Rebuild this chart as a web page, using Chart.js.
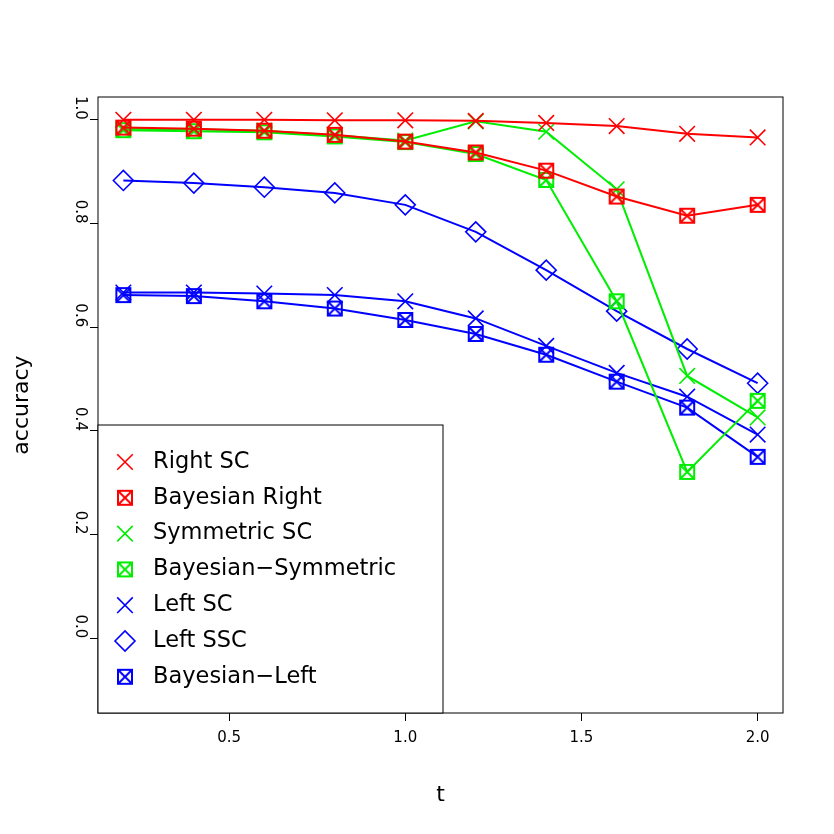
<!DOCTYPE html>
<html>
<head>
<meta charset="utf-8">
<script src="https://cdn.jsdelivr.net/npm/chart.js@4"></script>
<style>
  html, body { margin: 0; padding: 0; background: #fff; }
  #wrap { width: 834px; height: 834px; }
</style>
</head>
<body>
<div id="wrap"><canvas id="chart" width="834" height="834"></canvas></div>
<script>
// data
const tValues = [0.2, 0.4, 0.6, 0.8, 1.0, 1.2, 1.4, 1.6, 1.8, 2.0];
const xTicks = [0.5, 1.0, 1.5, 2.0];
const yTicks = [0.0, 0.2, 0.4, 0.6, 0.8, 1.0];

const rightSC = [1.0, 1.0, 1.0, 0.999, 0.999, 0.998, 0.994, 0.988, 0.973, 0.966];
const bayesRight = [0.985, 0.983, 0.979, 0.971, 0.958, 0.937, 0.902, 0.852, 0.815, 0.836];
const symmetricSC = [0.983, 0.982, 0.979, 0.970, 0.960, 0.997, 0.977, 0.866, 0.506, 0.426];
const bayesSymmetric = [0.980, 0.978, 0.976, 0.968, 0.957, 0.934, 0.884, 0.650, 0.321, 0.458];
const leftSC = [0.667, 0.667, 0.665, 0.662, 0.650, 0.617, 0.564, 0.512, 0.466, 0.393];
const leftSSC = [0.883, 0.878, 0.870, 0.859, 0.836, 0.784, 0.710, 0.631, 0.558, 0.492];
const bayesLeft = [0.662, 0.660, 0.650, 0.636, 0.614, 0.587, 0.547, 0.495, 0.445, 0.350];

const RED = '#FF0000', GREEN = '#00EE00', BLUE = '#0000FF';
const FONT = '"DejaVu Sans", "Liberation Sans", sans-serif';

// boxed x marker (R pch 7)
function boxedX(color) {
    const c = document.createElement('canvas');
    c.width = 18; c.height = 18;
    const g = c.getContext('2d');
    g.strokeStyle = color; g.lineWidth = 2;
    g.strokeRect(2, 2, 14, 14);
    g.beginPath();
    g.moveTo(2, 2); g.lineTo(16, 16);
    g.moveTo(16, 2); g.lineTo(2, 16);
    g.stroke();
    return c;
}

function series(label, data, color, style) {
    return {
        label: label,
        data: tValues.map((t, i) => ({ x: t, y: data[i] })),
        borderColor: color,
        backgroundColor: 'rgba(0,0,0,0)',
        pointBorderColor: color,
        pointBackgroundColor: 'rgba(0,0,0,0)',
        borderWidth: 2,
        pointBorderWidth: 1.6,
        pointRadius: style === 'crossRot' ? 11 : (style === 'rectRot' ? 10 : 8),
        pointStyle: style === 'box' ? boxedX(color) : style,
        tension: 0
    };
}

const datasets = [
    series('Right SC', rightSC, RED, 'crossRot'),
    series('Bayesian Right', bayesRight, RED, 'box'),
    series('Symmetric SC', symmetricSC, GREEN, 'crossRot'),
    series('Bayesian\u2212Symmetric', bayesSymmetric, GREEN, 'box'),
    series('Left SC', leftSC, BLUE, 'crossRot'),
    series('Left SSC', leftSSC, BLUE, 'rectRot'),
    series('Bayesian\u2212Left', bayesLeft, BLUE, 'box')
];

// box, axis titles and the R style legend
const decor = {
    id: 'decor',
    afterDraw(chart) {
        const ctx = chart.ctx;
        const a = chart.chartArea;
        ctx.save();
        ctx.strokeStyle = '#000'; ctx.lineWidth = 1;
        ctx.strokeRect(a.left, a.top, a.right - a.left, a.bottom - a.top);

        ctx.fillStyle = '#000';
        ctx.font = '22px ' + FONT;
        ctx.textAlign = 'center'; ctx.textBaseline = 'middle';
        ctx.fillText('t', (a.left + a.right) / 2, 795);
        ctx.translate(22, (a.top + a.bottom) / 2);
        ctx.rotate(-Math.PI / 2);
        ctx.fillText('accuracy', 0, 0);
        ctx.restore();

        // legend
        ctx.save();
        const lx = a.left, ly = 425, lw = 345, lh = a.bottom - 425;
        ctx.fillStyle = '#fff';
        ctx.fillRect(lx, ly, lw, lh);
        ctx.strokeStyle = '#000'; ctx.lineWidth = 1;
        ctx.strokeRect(lx, ly, lw, lh);
        ctx.font = '22.5px ' + FONT;
        ctx.textAlign = 'left'; ctx.textBaseline = 'middle';
        chart.data.datasets.forEach((ds, i) => {
            const y = 462 + i * 35.8;
            ctx.strokeStyle = ds.borderColor;
            ctx.fillStyle = 'rgba(0,0,0,0)';
            ctx.lineWidth = 1.6;
            Chart.helpers.drawPoint(ctx, {
                pointStyle: ds.pointStyle, radius: ds.pointRadius,
                borderWidth: 1.6, rotation: 0
            }, 125, y);
            ctx.fillStyle = '#000';
            ctx.fillText(ds.label, 153, y);
        });
        ctx.restore();
    }
};

new Chart(document.getElementById('chart'), {
    type: 'line',
    data: { datasets: datasets },
    options: {
        responsive: false,
        animation: false,
        layout: { padding: { top: 97, right: 51, left: 0, bottom: 0 } },
        plugins: { legend: { display: false }, tooltip: { enabled: false } },
        scales: {
            x: {
                type: 'linear',
                min: 0.128, max: 2.072,
                afterFit: s => { s.height = 121; },
                afterBuildTicks: s => { s.ticks = xTicks.map(v => ({ value: v })); },
                grid: { drawOnChartArea: false, tickLength: 8, color: '#000' },
                border: { display: false },
                ticks: {
                    color: '#000', padding: 8, maxRotation: 0,
                    font: { size: 15, family: FONT },
                    callback: v => v.toFixed(1)
                }
            },
            y: {
                type: 'linear',
                min: -0.144, max: 1.044,
                afterFit: s => { s.width = 98; },
                afterBuildTicks: s => { s.ticks = yTicks.map(v => ({ value: v })); },
                grid: { drawOnChartArea: false, tickLength: 8, color: '#000' },
                border: { display: false },
                ticks: {
                    color: '#000', padding: 10, minRotation: -90, maxRotation: -90,
                    font: { size: 15, family: FONT },
                    callback: v => v.toFixed(1)
                }
            }
        }
    },
    plugins: [decor]
});
</script>
</body>
</html>
